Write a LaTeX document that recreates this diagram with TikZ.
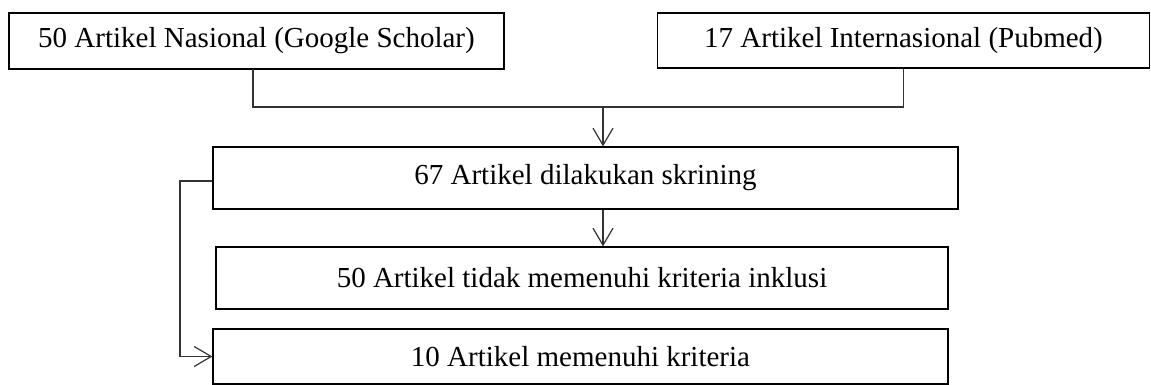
\documentclass[tikz,border=0pt]{standalone}
\usepackage{fontspec}
\setmainfont{Liberation Serif}
\usetikzlibrary{arrows.meta}
\begin{document}
\begin{tikzpicture}[x=1pt,y=-1pt,
  box/.style={draw, line width=1.3pt, inner sep=0pt, font=\fontsize{29}{34}\selectfont},
  conn/.style={draw=black!80, line width=1.1pt},
  arr/.style={conn, -{Straight Barb[length=17pt,width=20pt,line width=1.2pt]}}]
\useasboundingbox (0,0) rectangle (1151,385);
\node[box, minimum width=495pt, minimum height=56pt] (A) at (256.5,41) {50 Artikel Nasional (Google Scholar)};
\node[box, minimum width=492pt, minimum height=55pt] (B) at (903.5,40.5) {17 Artikel Internasional (Pubmed)};
\node[box, minimum width=745pt, minimum height=62pt] (S) at (585.5,178) {67 Artikel dilakukan skrining};
\node[box, minimum width=732pt, minimum height=62pt] (T) at (582,278) {50 Artikel tidak memenuhi kriteria inklusi};
\node[box, minimum width=735pt, minimum height=55pt] (U) at (580.5,356.5) {10 Artikel memenuhi kriteria};
\coordinate (j) at (603,107);
\coordinate (k) at (180,181);
\coordinate (a) at (253,69);
\draw[conn] (a) |- (j) -| (B.south);
\draw[arr] (j) -- (j |- S.north);
\draw[arr] (S.south -| j) -- (T.north -| j);
\draw[arr] (S.west |- k) -- (k) |- (U.west);
\end{tikzpicture}
\end{document}
